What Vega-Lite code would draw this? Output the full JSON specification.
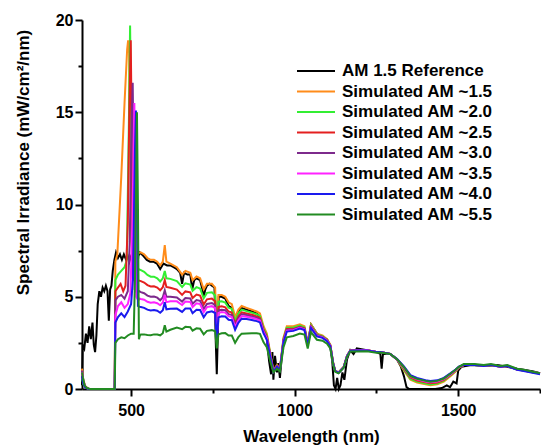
{
"$schema":"https://vega.github.io/schema/vega-lite/v6.json",
"width":458,"height":369,
"autosize":{"type":"none"},
"padding":{"left":82,"top":20,"right":1,"bottom":57},
"background":"white",
"config":{"view":{"stroke":null},
 "axis":{"grid":false,"domainColor":"black","domainWidth":2,"tickColor":"black","tickWidth":2,"labelFont":"Liberation Sans","labelFontWeight":"bold","labelFontSize":16,"labelColor":"black","titleFont":"Liberation Sans","titleFontWeight":"bold","titleFontSize":17,"titleColor":"black","labelOverlap":false,"labelFlush":false},
 "legend":{"orient":"none","legendX":214,"legendY":41,"padding":0,"symbolType":"stroke","symbolStrokeWidth":2,"symbolSize":1444,"clipHeight":20,"rowPadding":0.5,"labelFont":"Liberation Sans","labelFontWeight":"bold","labelFontSize":17,"labelColor":"black","labelOffset":6,"labelLimit":0,"title":null}
},
"datasets":{
"ref":[{"w":350,"v":0.2},{"w":352,"v":2.4},{"w":357,"v":2.2},{"w":362,"v":3.0},{"w":367,"v":2.5},{"w":372,"v":3.4},{"w":377,"v":2.7},{"w":382,"v":3.6},{"w":386,"v":2.4},{"w":390,"v":2.0},{"w":394,"v":2.9},{"w":398,"v":4.6},{"w":403,"v":5.3},{"w":408,"v":5.0},{"w":413,"v":5.5},{"w":418,"v":5.3},{"w":423,"v":5.6},{"w":428,"v":5.3},{"w":432,"v":3.7},{"w":436,"v":5.4},{"w":440,"v":5.6},{"w":444,"v":6.4},{"w":449,"v":7.0},{"w":454,"v":7.4},{"w":460,"v":7.1},{"w":466,"v":7.3},{"w":472,"v":7.0},{"w":478,"v":7.3},{"w":485,"v":7.0},{"w":490,"v":7.2},{"w":495,"v":6.9},{"w":500,"v":7.2},{"w":506,"v":7.1},{"w":512,"v":6.9},{"w":517,"v":6.0},{"w":522,"v":7.2},{"w":527,"v":7.4},{"w":538,"v":7.2},{"w":548,"v":7.0},{"w":558,"v":6.9},{"w":568,"v":6.9},{"w":579,"v":6.8},{"w":589,"v":6.5},{"w":599,"v":6.8},{"w":610,"v":6.7},{"w":620,"v":6.7},{"w":630,"v":6.6},{"w":640,"v":6.5},{"w":650,"v":6.3},{"w":656,"v":5.7},{"w":662,"v":6.3},{"w":672,"v":6.2},{"w":681,"v":6.2},{"w":687,"v":5.4},{"w":693,"v":5.9},{"w":700,"v":6.0},{"w":711,"v":5.9},{"w":718,"v":5.4},{"w":722,"v":5.0},{"w":727,"v":5.4},{"w":732,"v":5.6},{"w":740,"v":5.7},{"w":747,"v":5.6},{"w":755,"v":5.5},{"w":759,"v":2.5},{"w":762,"v":0.8},{"w":765,"v":2.8},{"w":768,"v":5.0},{"w":777,"v":5.0},{"w":788,"v":4.9},{"w":798,"v":4.5},{"w":808,"v":4.4},{"w":814,"v":4.0},{"w":818,"v":3.5},{"w":822,"v":3.8},{"w":828,"v":4.2},{"w":838,"v":4.4},{"w":853,"v":4.3},{"w":869,"v":4.2},{"w":884,"v":4.1},{"w":894,"v":3.9},{"w":900,"v":3.5},{"w":905,"v":3.2},{"w":915,"v":2.7},{"w":922,"v":1.5},{"w":928,"v":0.8},{"w":932,"v":2.0},{"w":935,"v":0.5},{"w":940,"v":1.8},{"w":946,"v":0.9},{"w":950,"v":1.4},{"w":955,"v":0.6},{"w":960,"v":1.6},{"w":966,"v":2.6},{"w":976,"v":3.3},{"w":996,"v":3.3},{"w":1016,"v":3.4},{"w":1030,"v":3.3},{"w":1040,"v":2.4},{"w":1050,"v":3.5},{"w":1068,"v":3.0},{"w":1085,"v":2.8},{"w":1099,"v":2.7},{"w":1109,"v":2.3},{"w":1115,"v":1.5},{"w":1120,"v":0.2},{"w":1125,"v":0.0},{"w":1130,"v":0.6},{"w":1135,"v":0.0},{"w":1140,"v":0.2},{"w":1146,"v":0.9},{"w":1152,"v":0.5},{"w":1160,"v":1.6},{"w":1170,"v":2.1},{"w":1180,"v":1.9},{"w":1190,"v":2.2},{"w":1221,"v":2.1},{"w":1250,"v":2.0},{"w":1262,"v":1.9},{"w":1266,"v":1.1},{"w":1270,"v":1.9},{"w":1292,"v":1.9},{"w":1313,"v":1.6},{"w":1325,"v":1.2},{"w":1334,"v":0.7},{"w":1342,"v":0.1},{"w":1350,"v":0.0},{"w":1400,"v":0.0},{"w":1430,"v":0.0},{"w":1450,"v":0.05},{"w":1465,"v":0.2},{"w":1475,"v":0.1},{"w":1485,"v":0.4},{"w":1495,"v":0.3},{"w":1500,"v":1.0},{"w":1510,"v":1.2},{"w":1540,"v":1.3},{"w":1580,"v":1.25},{"w":1620,"v":1.3},{"w":1650,"v":1.2},{"w":1680,"v":1.1},{"w":1700,"v":1.05},{"w":1730,"v":0.95},{"w":1750,"v":0.85}],
"a15":[{"w":350,"v":1.1},{"w":354,"v":0.5},{"w":360,"v":0.15},{"w":370,"v":0.02},{"w":380,"v":0},{"w":450,"v":0},{"w":452,"v":6.9},{"w":458,"v":7.3},{"w":470,"v":11.5},{"w":480,"v":15.5},{"w":488,"v":18.4},{"w":491,"v":18.9},{"w":494,"v":18.2},{"w":498,"v":12.0},{"w":501,"v":8.0},{"w":505,"v":7.2},{"w":515,"v":7.3},{"w":527,"v":7.4},{"w":530,"v":7.4},{"w":540,"v":7.3},{"w":550,"v":7.1},{"w":560,"v":7.0},{"w":570,"v":7.0},{"w":580,"v":6.9},{"w":589,"v":6.7},{"w":597,"v":6.9},{"w":603,"v":7.8},{"w":608,"v":6.9},{"w":620,"v":6.8},{"w":640,"v":6.6},{"w":656,"v":6.2},{"w":666,"v":6.4},{"w":681,"v":6.3},{"w":688,"v":5.9},{"w":700,"v":6.1},{"w":711,"v":6.0},{"w":722,"v":5.4},{"w":732,"v":5.7},{"w":747,"v":5.7},{"w":757,"v":5.5},{"w":762,"v":3.0},{"w":767,"v":5.1},{"w":777,"v":5.1},{"w":788,"v":5.0},{"w":798,"v":4.7},{"w":808,"v":4.6},{"w":818,"v":3.9},{"w":828,"v":4.3},{"w":838,"v":4.5},{"w":853,"v":4.4},{"w":869,"v":4.3},{"w":884,"v":4.2},{"w":894,"v":4.1},{"w":905,"v":3.4},{"w":915,"v":3.0},{"w":925,"v":2.0},{"w":935,"v":1.0},{"w":946,"v":1.3},{"w":955,"v":1.1},{"w":966,"v":2.8},{"w":976,"v":3.4},{"w":996,"v":3.4},{"w":1016,"v":3.5},{"w":1030,"v":3.4},{"w":1040,"v":2.5},{"w":1050,"v":3.5},{"w":1068,"v":3.0},{"w":1085,"v":2.9},{"w":1099,"v":2.7},{"w":1109,"v":2.4},{"w":1118,"v":1.4},{"w":1124,"v":1.0},{"w":1134,"v":0.9},{"w":1150,"v":1.2},{"w":1160,"v":1.8},{"w":1170,"v":2.1},{"w":1190,"v":2.1},{"w":1221,"v":2.1},{"w":1250,"v":2.0},{"w":1262,"v":2.0},{"w":1292,"v":1.9},{"w":1313,"v":1.6},{"w":1334,"v":1.0},{"w":1354,"v":0.5},{"w":1374,"v":0.35},{"w":1400,"v":0.25},{"w":1415,"v":0.2},{"w":1436,"v":0.25},{"w":1456,"v":0.4},{"w":1477,"v":0.7},{"w":1492,"v":0.95},{"w":1502,"v":1.15},{"w":1517,"v":1.3},{"w":1550,"v":1.3},{"w":1578,"v":1.25},{"w":1600,"v":1.3},{"w":1629,"v":1.2},{"w":1650,"v":1.25},{"w":1680,"v":1.05},{"w":1700,"v":1.0},{"w":1731,"v":0.9},{"w":1750,"v":0.85}],
"a20":[{"w":350,"v":0.6},{"w":354,"v":0.25},{"w":360,"v":0.08},{"w":370,"v":0},{"w":450,"v":0},{"w":452,"v":5.9},{"w":460,"v":6.2},{"w":470,"v":6.4},{"w":480,"v":6.6},{"w":487,"v":7.0},{"w":493,"v":14.0},{"w":497,"v":19.7},{"w":500,"v":15.0},{"w":503,"v":8.0},{"w":507,"v":6.6},{"w":515,"v":6.5},{"w":522,"v":6.5},{"w":530,"v":6.44},{"w":540,"v":6.35},{"w":550,"v":6.18},{"w":560,"v":6.09},{"w":570,"v":6.09},{"w":580,"v":6.0},{"w":589,"v":5.83},{"w":597,"v":6.0},{"w":603,"v":6.4},{"w":608,"v":6.0},{"w":620,"v":5.97},{"w":640,"v":5.85},{"w":656,"v":5.53},{"w":666,"v":5.73},{"w":681,"v":5.66},{"w":688,"v":5.32},{"w":700,"v":5.52},{"w":711,"v":5.45},{"w":722,"v":4.92},{"w":732,"v":5.21},{"w":747,"v":5.24},{"w":757,"v":5.07},{"w":762,"v":2.9},{"w":767,"v":4.73},{"w":777,"v":4.75},{"w":788,"v":4.68},{"w":798,"v":4.41},{"w":808,"v":4.34},{"w":818,"v":3.69},{"w":828,"v":4.09},{"w":838,"v":4.3},{"w":853,"v":4.22},{"w":869,"v":4.14},{"w":884,"v":4.05},{"w":894,"v":3.96},{"w":905,"v":3.29},{"w":915,"v":2.91},{"w":925,"v":1.94},{"w":935,"v":0.98},{"w":946,"v":1.27},{"w":955,"v":1.08},{"w":966,"v":2.73},{"w":976,"v":3.32},{"w":996,"v":3.33},{"w":1016,"v":3.44},{"w":1030,"v":3.34},{"w":1040,"v":2.46},{"w":1050,"v":3.45},{"w":1068,"v":2.96},{"w":1085,"v":2.87},{"w":1099,"v":2.67},{"w":1109,"v":2.38},{"w":1118,"v":1.39},{"w":1124,"v":0.99},{"w":1134,"v":0.89},{"w":1150,"v":1.19},{"w":1160,"v":1.79},{"w":1170,"v":2.09},{"w":1190,"v":2.1},{"w":1221,"v":2.1},{"w":1250,"v":2.0},{"w":1262,"v":2.0},{"w":1292,"v":1.9},{"w":1313,"v":1.6},{"w":1334,"v":1.05},{"w":1354,"v":0.55},{"w":1374,"v":0.4},{"w":1400,"v":0.3},{"w":1415,"v":0.25},{"w":1436,"v":0.3},{"w":1456,"v":0.45},{"w":1477,"v":0.74},{"w":1492,"v":0.98},{"w":1502,"v":1.17},{"w":1517,"v":1.3},{"w":1550,"v":1.3},{"w":1578,"v":1.25},{"w":1600,"v":1.3},{"w":1629,"v":1.2},{"w":1650,"v":1.25},{"w":1680,"v":1.05},{"w":1700,"v":1.0},{"w":1731,"v":0.9},{"w":1750,"v":0.85}],
"a25":[{"w":350,"v":0.8},{"w":354,"v":0.35},{"w":360,"v":0.1},{"w":370,"v":0},{"w":450,"v":0},{"w":452,"v":5.3},{"w":460,"v":5.5},{"w":468,"v":5.7},{"w":476,"v":5.3},{"w":483,"v":5.6},{"w":490,"v":9.0},{"w":495,"v":15.5},{"w":499,"v":18.9},{"w":502,"v":14.0},{"w":505,"v":6.0},{"w":510,"v":5.9},{"w":520,"v":5.9},{"w":530,"v":5.85},{"w":540,"v":5.77},{"w":550,"v":5.63},{"w":560,"v":5.56},{"w":570,"v":5.57},{"w":580,"v":5.5},{"w":589,"v":5.35},{"w":597,"v":5.52},{"w":603,"v":5.9},{"w":608,"v":5.53},{"w":620,"v":5.49},{"w":640,"v":5.39},{"w":656,"v":5.1},{"w":666,"v":5.29},{"w":681,"v":5.24},{"w":688,"v":4.93},{"w":700,"v":5.12},{"w":711,"v":5.06},{"w":722,"v":4.58},{"w":732,"v":4.86},{"w":747,"v":4.9},{"w":757,"v":4.76},{"w":762,"v":2.8},{"w":767,"v":4.45},{"w":777,"v":4.48},{"w":788,"v":4.43},{"w":798,"v":4.2},{"w":808,"v":4.14},{"w":818,"v":3.54},{"w":828,"v":3.93},{"w":838,"v":4.15},{"w":853,"v":4.09},{"w":869,"v":4.02},{"w":884,"v":3.94},{"w":894,"v":3.85},{"w":905,"v":3.2},{"w":915,"v":2.83},{"w":925,"v":1.89},{"w":935,"v":0.96},{"w":946,"v":1.25},{"w":955,"v":1.06},{"w":966,"v":2.67},{"w":976,"v":3.25},{"w":996,"v":3.26},{"w":1016,"v":3.37},{"w":1030,"v":3.28},{"w":1040,"v":2.42},{"w":1050,"v":3.4},{"w":1068,"v":2.92},{"w":1085,"v":2.83},{"w":1099,"v":2.65},{"w":1109,"v":2.36},{"w":1118,"v":1.38},{"w":1124,"v":0.98},{"w":1134,"v":0.89},{"w":1150,"v":1.19},{"w":1160,"v":1.78},{"w":1170,"v":2.09},{"w":1190,"v":2.1},{"w":1221,"v":2.1},{"w":1250,"v":2.0},{"w":1262,"v":2.0},{"w":1292,"v":1.9},{"w":1313,"v":1.6},{"w":1334,"v":1.1},{"w":1354,"v":0.62},{"w":1374,"v":0.46},{"w":1400,"v":0.36},{"w":1415,"v":0.31},{"w":1436,"v":0.35},{"w":1456,"v":0.5},{"w":1477,"v":0.78},{"w":1492,"v":1.0},{"w":1502,"v":1.18},{"w":1517,"v":1.3},{"w":1550,"v":1.31},{"w":1578,"v":1.26},{"w":1600,"v":1.3},{"w":1629,"v":1.21},{"w":1650,"v":1.25},{"w":1680,"v":1.06},{"w":1700,"v":1.0},{"w":1731,"v":0.9},{"w":1750,"v":0.85}],
"a30":[{"w":350,"v":1.0},{"w":354,"v":0.45},{"w":360,"v":0.12},{"w":370,"v":0},{"w":450,"v":0},{"w":452,"v":4.8},{"w":460,"v":5.0},{"w":470,"v":5.1},{"w":480,"v":4.9},{"w":490,"v":5.3},{"w":496,"v":8.0},{"w":501,"v":14.0},{"w":505,"v":16.6},{"w":508,"v":12.0},{"w":511,"v":5.4},{"w":518,"v":5.2},{"w":525,"v":5.3},{"w":530,"v":5.25},{"w":540,"v":5.19},{"w":550,"v":5.06},{"w":560,"v":5.0},{"w":570,"v":5.01},{"w":580,"v":4.95},{"w":589,"v":4.81},{"w":597,"v":4.97},{"w":603,"v":5.35},{"w":608,"v":5.0},{"w":620,"v":5.0},{"w":640,"v":4.96},{"w":656,"v":4.74},{"w":666,"v":4.93},{"w":681,"v":4.91},{"w":688,"v":4.62},{"w":700,"v":4.82},{"w":711,"v":4.78},{"w":722,"v":4.34},{"w":732,"v":4.61},{"w":747,"v":4.66},{"w":757,"v":4.54},{"w":762,"v":2.75},{"w":767,"v":4.26},{"w":777,"v":4.3},{"w":788,"v":4.27},{"w":798,"v":4.06},{"w":808,"v":4.01},{"w":818,"v":3.44},{"w":828,"v":3.83},{"w":838,"v":4.05},{"w":853,"v":4.01},{"w":869,"v":3.93},{"w":884,"v":3.86},{"w":894,"v":3.78},{"w":905,"v":3.15},{"w":915,"v":2.78},{"w":925,"v":1.86},{"w":935,"v":0.95},{"w":946,"v":1.23},{"w":955,"v":1.05},{"w":966,"v":2.63},{"w":976,"v":3.21},{"w":996,"v":3.23},{"w":1016,"v":3.34},{"w":1030,"v":3.26},{"w":1040,"v":2.4},{"w":1050,"v":3.37},{"w":1068,"v":2.9},{"w":1085,"v":2.82},{"w":1099,"v":2.63},{"w":1109,"v":2.34},{"w":1118,"v":1.37},{"w":1124,"v":0.98},{"w":1134,"v":0.88},{"w":1150,"v":1.18},{"w":1160,"v":1.78},{"w":1170,"v":2.08},{"w":1190,"v":2.09},{"w":1221,"v":2.1},{"w":1250,"v":2.0},{"w":1262,"v":2.0},{"w":1292,"v":1.9},{"w":1313,"v":1.62},{"w":1334,"v":1.2},{"w":1354,"v":0.72},{"w":1374,"v":0.56},{"w":1400,"v":0.45},{"w":1415,"v":0.4},{"w":1436,"v":0.44},{"w":1456,"v":0.57},{"w":1477,"v":0.83},{"w":1492,"v":1.04},{"w":1502,"v":1.2},{"w":1517,"v":1.32},{"w":1550,"v":1.32},{"w":1578,"v":1.27},{"w":1600,"v":1.32},{"w":1629,"v":1.22},{"w":1650,"v":1.27},{"w":1680,"v":1.07},{"w":1700,"v":1.02},{"w":1731,"v":0.91},{"w":1750,"v":0.84}],
"a35":[{"w":350,"v":0.9},{"w":354,"v":0.4},{"w":360,"v":0.1},{"w":370,"v":0},{"w":450,"v":0},{"w":452,"v":4.0},{"w":460,"v":4.5},{"w":470,"v":4.7},{"w":480,"v":4.4},{"w":490,"v":4.6},{"w":498,"v":5.2},{"w":504,"v":9.0},{"w":510,"v":15.5},{"w":513,"v":12.0},{"w":516,"v":5.0},{"w":522,"v":4.8},{"w":526,"v":4.9},{"w":530,"v":4.88},{"w":540,"v":4.84},{"w":550,"v":4.73},{"w":560,"v":4.68},{"w":570,"v":4.7},{"w":580,"v":4.65},{"w":589,"v":4.54},{"w":597,"v":4.69},{"w":603,"v":5.1},{"w":608,"v":4.71},{"w":620,"v":4.76},{"w":640,"v":4.75},{"w":656,"v":4.55},{"w":666,"v":4.74},{"w":681,"v":4.72},{"w":688,"v":4.44},{"w":700,"v":4.64},{"w":711,"v":4.6},{"w":722,"v":4.17},{"w":732,"v":4.44},{"w":747,"v":4.49},{"w":757,"v":4.38},{"w":762,"v":2.7},{"w":767,"v":4.12},{"w":777,"v":4.17},{"w":788,"v":4.14},{"w":798,"v":3.94},{"w":808,"v":3.9},{"w":818,"v":3.35},{"w":828,"v":3.73},{"w":838,"v":3.95},{"w":853,"v":3.92},{"w":869,"v":3.86},{"w":884,"v":3.79},{"w":894,"v":3.71},{"w":905,"v":3.09},{"w":915,"v":2.74},{"w":925,"v":1.83},{"w":935,"v":0.95},{"w":946,"v":1.22},{"w":955,"v":1.04},{"w":966,"v":2.6},{"w":976,"v":3.16},{"w":996,"v":3.19},{"w":1016,"v":3.31},{"w":1030,"v":3.22},{"w":1040,"v":2.38},{"w":1050,"v":3.34},{"w":1068,"v":2.88},{"w":1085,"v":2.8},{"w":1099,"v":2.62},{"w":1109,"v":2.34},{"w":1118,"v":1.36},{"w":1124,"v":0.98},{"w":1134,"v":0.88},{"w":1150,"v":1.18},{"w":1160,"v":1.78},{"w":1170,"v":2.08},{"w":1190,"v":2.09},{"w":1221,"v":2.1},{"w":1250,"v":2.0},{"w":1262,"v":2.0},{"w":1292,"v":1.9},{"w":1313,"v":1.61},{"w":1334,"v":1.15},{"w":1354,"v":0.68},{"w":1374,"v":0.52},{"w":1400,"v":0.41},{"w":1415,"v":0.36},{"w":1436,"v":0.4},{"w":1456,"v":0.53},{"w":1477,"v":0.8},{"w":1492,"v":1.02},{"w":1502,"v":1.19},{"w":1517,"v":1.31},{"w":1550,"v":1.31},{"w":1578,"v":1.26},{"w":1600,"v":1.31},{"w":1629,"v":1.21},{"w":1650,"v":1.26},{"w":1680,"v":1.06},{"w":1700,"v":1.01},{"w":1731,"v":0.9},{"w":1750,"v":0.84}],
"a40":[{"w":350,"v":0.7},{"w":354,"v":0.3},{"w":360,"v":0.08},{"w":370,"v":0},{"w":450,"v":0},{"w":452,"v":3.6},{"w":460,"v":3.9},{"w":470,"v":4.1},{"w":480,"v":3.9},{"w":490,"v":4.2},{"w":500,"v":4.6},{"w":506,"v":6.0},{"w":512,"v":13.0},{"w":515,"v":15.1},{"w":518,"v":10.0},{"w":521,"v":4.5},{"w":526,"v":4.45},{"w":530,"v":4.44},{"w":540,"v":4.4},{"w":550,"v":4.3},{"w":560,"v":4.26},{"w":570,"v":4.28},{"w":580,"v":4.24},{"w":589,"v":4.13},{"w":597,"v":4.27},{"w":603,"v":4.7},{"w":608,"v":4.32},{"w":620,"v":4.35},{"w":640,"v":4.36},{"w":656,"v":4.18},{"w":666,"v":4.36},{"w":681,"v":4.36},{"w":688,"v":4.11},{"w":700,"v":4.3},{"w":711,"v":4.28},{"w":722,"v":3.89},{"w":732,"v":4.15},{"w":747,"v":4.21},{"w":757,"v":4.12},{"w":762,"v":2.6},{"w":767,"v":3.88},{"w":777,"v":3.94},{"w":788,"v":3.93},{"w":798,"v":3.75},{"w":808,"v":3.73},{"w":818,"v":3.21},{"w":828,"v":3.59},{"w":838,"v":3.81},{"w":853,"v":3.79},{"w":869,"v":3.74},{"w":884,"v":3.68},{"w":894,"v":3.61},{"w":905,"v":3.01},{"w":915,"v":2.67},{"w":925,"v":1.79},{"w":935,"v":0.93},{"w":946,"v":1.2},{"w":955,"v":1.02},{"w":966,"v":2.55},{"w":976,"v":3.11},{"w":996,"v":3.15},{"w":1016,"v":3.27},{"w":1030,"v":3.19},{"w":1040,"v":2.36},{"w":1050,"v":3.31},{"w":1068,"v":2.85},{"w":1085,"v":2.77},{"w":1099,"v":2.59},{"w":1109,"v":2.31},{"w":1118,"v":1.35},{"w":1124,"v":0.97},{"w":1134,"v":0.87},{"w":1150,"v":1.17},{"w":1160,"v":1.77},{"w":1170,"v":2.07},{"w":1190,"v":2.08},{"w":1221,"v":2.09},{"w":1250,"v":2.0},{"w":1262,"v":2.0},{"w":1292,"v":1.9},{"w":1313,"v":1.62},{"w":1334,"v":1.22},{"w":1354,"v":0.75},{"w":1374,"v":0.6},{"w":1400,"v":0.48},{"w":1415,"v":0.44},{"w":1436,"v":0.47},{"w":1456,"v":0.6},{"w":1477,"v":0.86},{"w":1492,"v":1.06},{"w":1502,"v":1.21},{"w":1517,"v":1.31},{"w":1550,"v":1.3},{"w":1578,"v":1.25},{"w":1600,"v":1.3},{"w":1629,"v":1.2},{"w":1650,"v":1.24},{"w":1680,"v":1.04},{"w":1700,"v":0.98},{"w":1731,"v":0.87},{"w":1750,"v":0.8}],
"a55":[{"w":350,"v":0.9},{"w":353,"v":0.6},{"w":358,"v":0.2},{"w":365,"v":0.05},{"w":375,"v":0},{"w":450,"v":0},{"w":452,"v":2.5},{"w":460,"v":2.7},{"w":470,"v":2.8},{"w":480,"v":2.75},{"w":490,"v":2.9},{"w":500,"v":3.0},{"w":508,"v":3.0},{"w":512,"v":6.0},{"w":518,"v":15.0},{"w":521,"v":10.0},{"w":524,"v":2.7},{"w":527,"v":2.9},{"w":530,"v":2.96},{"w":540,"v":2.96},{"w":550,"v":2.93},{"w":560,"v":2.92},{"w":570,"v":2.96},{"w":580,"v":2.95},{"w":589,"v":2.91},{"w":597,"v":3.02},{"w":603,"v":3.45},{"w":608,"v":3.11},{"w":620,"v":3.21},{"w":640,"v":3.33},{"w":656,"v":3.24},{"w":666,"v":3.37},{"w":681,"v":3.35},{"w":688,"v":3.16},{"w":700,"v":3.29},{"w":711,"v":3.27},{"w":722,"v":2.96},{"w":732,"v":3.15},{"w":747,"v":3.19},{"w":757,"v":3.13},{"w":762,"v":2.2},{"w":767,"v":2.96},{"w":777,"v":3.02},{"w":788,"v":3.03},{"w":798,"v":2.9},{"w":808,"v":2.9},{"w":818,"v":2.5},{"w":828,"v":2.81},{"w":838,"v":3.0},{"w":853,"v":3.01},{"w":869,"v":3.02},{"w":884,"v":3.02},{"w":894,"v":2.99},{"w":905,"v":2.53},{"w":915,"v":2.26},{"w":925,"v":1.53},{"w":935,"v":0.9},{"w":946,"v":1.1},{"w":955,"v":0.95},{"w":966,"v":2.27},{"w":976,"v":2.8},{"w":996,"v":2.87},{"w":1016,"v":3.01},{"w":1030,"v":2.95},{"w":1040,"v":2.19},{"w":1050,"v":3.08},{"w":1068,"v":2.67},{"w":1085,"v":2.62},{"w":1099,"v":2.46},{"w":1109,"v":2.2},{"w":1118,"v":1.3},{"w":1124,"v":0.93},{"w":1134,"v":0.85},{"w":1150,"v":1.15},{"w":1160,"v":1.73},{"w":1170,"v":2.03},{"w":1190,"v":2.03},{"w":1221,"v":2.05},{"w":1250,"v":1.97},{"w":1262,"v":1.98},{"w":1292,"v":1.9},{"w":1313,"v":1.62},{"w":1334,"v":1.18},{"w":1354,"v":0.7},{"w":1374,"v":0.55},{"w":1400,"v":0.44},{"w":1415,"v":0.4},{"w":1436,"v":0.44},{"w":1456,"v":0.57},{"w":1477,"v":0.84},{"w":1492,"v":1.04},{"w":1502,"v":1.2},{"w":1517,"v":1.35},{"w":1550,"v":1.35},{"w":1578,"v":1.3},{"w":1600,"v":1.35},{"w":1629,"v":1.25},{"w":1650,"v":1.3},{"w":1680,"v":1.1},{"w":1700,"v":1.05},{"w":1731,"v":0.92},{"w":1750,"v":0.86}]
},
"encoding":{
 "x":{"field":"w","type":"quantitative","title":"Wavelength (nm)","scale":{"domain":[350,1750],"nice":false,"zero":false},
  "axis":{"values":[500,750,1000,1250,1500,1750],"format":"d","labelExpr":"datum.value % 500 === 0 ? datum.label : ''","tickSize":{"condition":{"test":"datum.value % 500 === 0","value":7},"value":4},"labelPadding":6,"titleY":52,"titleBaseline":"alphabetic","titlePadding":0}},
 "y":{"field":"v","type":"quantitative","title":"Spectral Irradiance (mW/cm²/nm)","scale":{"domain":[0,20],"nice":false},
  "axis":{"values":[0,2.5,5,7.5,10,12.5,15,17.5,20],"labelExpr":"datum.value % 5 === 0 ? datum.label : ''","tickSize":{"condition":{"test":"datum.value % 5 === 0","value":7},"value":4},"labelPadding":2,"titleX":-54,"titleY":142,"titleAngle":-90,"titleAlign":"center","titleBaseline":"alphabetic"}}
},
"layer":[
 {"data":{"name":"ref"},"mark":{"type":"line","strokeWidth":2},"encoding":{"color":{"datum":"AM 1.5 Reference","scale":{"domain":["AM 1.5 Reference","Simulated AM ~1.5","Simulated AM ~2.0","Simulated AM ~2.5","Simulated AM ~3.0","Simulated AM ~3.5","Simulated AM ~4.0","Simulated AM ~5.5"],"range":["#000000","#ff8c1a","#33ee33","#e41f1f","#7d2a8c","#ff22ff","#1a1aee","#228b22"]}}}},
 {"data":{"name":"a15"},"mark":{"type":"line","strokeWidth":2},"encoding":{"color":{"datum":"Simulated AM ~1.5"}}},
 {"data":{"name":"a20"},"mark":{"type":"line","strokeWidth":2},"encoding":{"color":{"datum":"Simulated AM ~2.0"}}},
 {"data":{"name":"a25"},"mark":{"type":"line","strokeWidth":2},"encoding":{"color":{"datum":"Simulated AM ~2.5"}}},
 {"data":{"name":"a30"},"mark":{"type":"line","strokeWidth":2},"encoding":{"color":{"datum":"Simulated AM ~3.0"}}},
 {"data":{"name":"a35"},"mark":{"type":"line","strokeWidth":2},"encoding":{"color":{"datum":"Simulated AM ~3.5"}}},
 {"data":{"name":"a40"},"mark":{"type":"line","strokeWidth":2},"encoding":{"color":{"datum":"Simulated AM ~4.0"}}},
 {"data":{"name":"a55"},"mark":{"type":"line","strokeWidth":2},"encoding":{"color":{"datum":"Simulated AM ~5.5"}}}
]
}
